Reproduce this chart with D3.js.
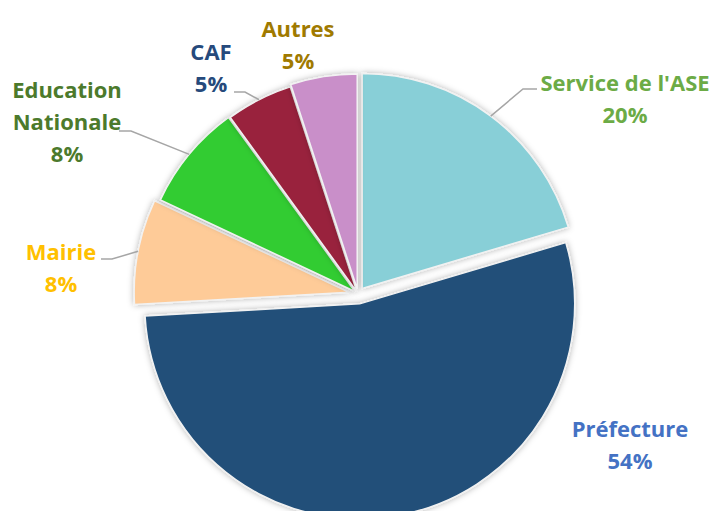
<!DOCTYPE html>
<html>
<head>
<meta charset="utf-8">
<script src="https://cdn.jsdelivr.net/npm/d3@7"></script>
<style>
  body { margin: 0; background: #fff; }
  svg { display: block; }
  .lbl { font-family: "Open Sans", sans-serif; font-weight: bold; font-size: 22px; }
</style>
</head>
<body>
<script>
// données
const categories = ["Service de l'ASE", "Préfecture", "Mairie", "Education Nationale", "CAF", "Autres"];
const values = [20.4, 53.7, 7.9, 8.0, 5.0, 5.0];
const labelLines = [["Service de l'ASE"], ["Préfecture"], ["Mairie"], ["Education", "Nationale"], ["CAF"], ["Autres"]];

// styles
const sliceColors = ["#88cfd7", "#214f79", "#fecb98", "#33cc33", "#99223d", "#c98fc9"];
const textColors = ["#6cab46", "#4472c4", "#ffc000", "#4c7a2c", "#264a7c", "#a07a00"];
const explode = [7, 10, 9, 4, 3, 5];

// label layout: x centre, first baseline, leader elbow / end (null = no leader)
const labelLayout = [
  { x: 625, y: 91, leader: [[523, 89], [537, 89]] },
  { x: 630, y: 437, leader: null },
  { x: 61, y: 260, leader: [[112, 259], [101, 259]] },
  { x: 67, y: 98, leader: [[131, 131], [119, 131]] },
  { x: 211, y: 60, leader: [[245, 92], [234, 92]] },
  { x: 298, y: 37, leader: null }
];
const lineGap = 32;

const width = 713;
const height = 511;
const cx = 358, cy = 294, r = 215;

const data = categories.map((c, i) => ({ name: c, value: values[i], i: i }));

const svg = d3.select("body").append("svg").attr("width", width).attr("height", height);

const defs = svg.append("defs");
defs.append("filter")
  .attr("id", "shadow")
  .attr("x", "-20%").attr("y", "-20%").attr("width", "140%").attr("height", "140%")
  .append("feDropShadow")
  .attr("dx", 0).attr("dy", 0)
  .attr("stdDeviation", 3)
  .attr("flood-color", "#000")
  .attr("flood-opacity", 0.3);

const pie = d3.pie().sort(null).value(d => d.value);
const arcs = pie(data);
const arc = d3.arc().innerRadius(0).outerRadius(r);

const mid = d => (d.startAngle + d.endAngle) / 2;
const shift = d => {
  const a = mid(d), k = explode[d.data.i];
  return [Math.sin(a) * k, -Math.cos(a) * k];
};

/** parts */
svg.append("g")
  .selectAll("path")
  .data(arcs)
  .join("path")
  .attr("transform", d => {
    const [ox, oy] = shift(d);
    return "translate(" + (cx + ox) + "," + (cy + oy) + ")";
  })
  .attr("d", arc)
  .attr("fill", d => sliceColors[d.data.i])
  .attr("stroke", "#f2f2f2")
  .attr("stroke-width", 1.5)
  .attr("filter", "url(#shadow)");

/** lignes de rappel */
const line = d3.line();
svg.append("g")
  .selectAll("path")
  .data(arcs.filter(d => labelLayout[d.data.i].leader))
  .join("path")
  .attr("d", d => {
    const a = mid(d), [ox, oy] = shift(d);
    const start = [cx + ox + Math.sin(a) * r, cy + oy - Math.cos(a) * r];
    return line([start].concat(labelLayout[d.data.i].leader));
  })
  .attr("fill", "none")
  .attr("stroke", "#a6a6a6")
  .attr("stroke-width", 1.5);

/** étiquettes */
const labels = svg.append("g")
  .selectAll("text")
  .data(arcs)
  .join("text")
  .attr("class", "lbl")
  .attr("text-anchor", "middle")
  .attr("fill", d => textColors[d.data.i]);

labels.each(function(d) {
  const pos = labelLayout[d.data.i];
  const lines = labelLines[d.data.i].concat([Math.round(d.data.value) + "%"]);
  d3.select(this).selectAll("tspan")
    .data(lines)
    .join("tspan")
    .attr("x", pos.x)
    .attr("y", (t, j) => pos.y + j * lineGap)
    .text(t => t);
});
</script>
</body>
</html>
